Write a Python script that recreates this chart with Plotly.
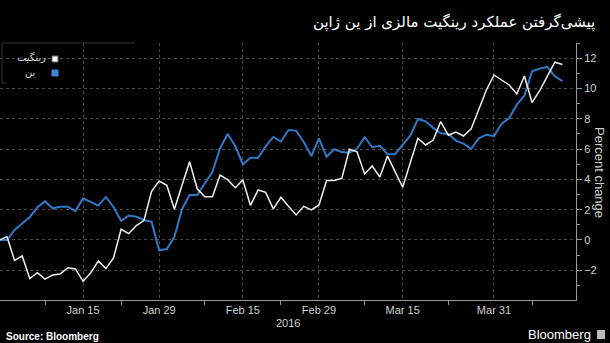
import plotly.graph_objects as go
import pandas as pd

# ---------------- data ----------------
dates = pd.bdate_range("2015-12-31", periods=75)

ringgit = [0, 0.22, -1.35, -1.05, -2.55, -2.16, -2.58, -2.31, -2.24, -1.83,
           -1.91, -2.73, -2.17, -1.39, -1.89, -1.19, 0.71, 0.42, 0.95, 1.28,
           3.21, 3.89, 3.61, 2.03, 3.61, 5.17, 3.38, 2.86, 2.86, 4.28,
           3.98, 3.45, 3.96, 2.28, 3.30, 3.14, 2.05, 2.82, 2.22, 1.65,
           2.22, 1.98, 2.31, 3.92, 3.92, 4.07, 5.99, 5.82, 4.36, 4.88,
           4.16, 5.55, 4.51, 3.48, 5.10, 6.71, 6.27, 6.58, 7.81, 6.91,
           7.12, 6.86, 7.33, 8.60, 9.90, 10.89, 10.56, 10.23, 9.64, 10.82,
           9.07, 9.85, 10.80, 11.73, 11.58]

yen = [0, 0, 0.66, 1.06, 1.52, 2.16, 2.55, 2.09, 2.20, 2.20,
       1.91, 2.75, 2.49, 2.27, 2.84, 2.18, 1.26, 1.61, 1.54, 1.32,
       1.21, -0.68, -0.60, 0.20, 2.03, 2.97, 2.97, 3.70, 4.50, 6.05,
       7.00, 6.20, 5.00, 5.43, 5.43, 6.18, 6.80, 6.50, 7.26, 7.22,
       6.47, 5.54, 6.71, 5.50, 5.99, 5.80, 5.76, 6.02, 6.78, 6.12,
       6.22, 5.68, 5.66, 6.27, 6.88, 7.98, 7.83, 7.40, 7.04, 7.00,
       6.56, 6.36, 6.02, 6.71, 6.95, 6.86, 7.68, 8.05, 8.93, 9.52,
       11.14, 11.31, 11.42, 10.80, 10.48]

series_names = ["رینگیت", "ین"]
tick_dates = ["2016-01-15", "2016-01-29", "2016-02-15", "2016-02-29", "2016-03-15", "2016-03-31"]
tick_labels = ["Jan 15", "Jan 29", "Feb 15", "Feb 29", "Mar 15", "Mar 31"]
minor_tick_dates = ["2016-01-08", "2016-01-22", "2016-02-08", "2016-02-22",
                    "2016-03-08", "2016-03-23", "2016-04-07"]
y_ticks = [-2, 0, 2, 4, 6, 8, 10, 12]

title = "پیشی‌گرفتن عملکرد رینگیت مالزی از ین ژاپن"

# ---------------- layout helpers ----------------
W, H = 610, 343
L, R, T, B = 0, 34, 43, 43
PW, PH = W - L - R, H - T - B


def px(x):
    return (x - L) / PW


def py(y):
    return (H - B - y) / PH


WHITE = "#f0f0f0"
BLUE = "#3278c8"
GRID = "#4a4a4a"
AXIS = "#9a9a9a"
TXT = "#d0d0d0"
FONT = "Liberation Sans, Arial, sans-serif"
FA_FONT = "DejaVu Sans, sans-serif"

fig = go.Figure()
fig.add_trace(go.Scatter(x=dates, y=yen, mode="lines", name=series_names[1],
                         line=dict(color=BLUE, width=2)))
fig.add_trace(go.Scatter(x=dates, y=ringgit, mode="lines", name=series_names[0],
                         line=dict(color=WHITE, width=1.5)))

fig.update_layout(
    width=W, height=H,
    paper_bgcolor="black", plot_bgcolor="black",
    margin=dict(l=L, r=R, t=T, b=B, autoexpand=False),
    showlegend=False,
    font=dict(family=FONT, color=TXT, size=11),
    xaxis=dict(
        type="date",
        range=["2015-12-31 02:00", "2016-04-14 18:40"],
        rangebreaks=[dict(bounds=["sat", "mon"])],
        tickmode="array", tickvals=tick_dates, ticktext=tick_labels,
        ticks="", showgrid=True, gridcolor=GRID, griddash="dot", gridwidth=1,
        showline=True, linecolor=AXIS, linewidth=1, zeroline=False,
        tickfont=dict(size=11, color=TXT),
        minor=dict(tickmode="array", tickvals=minor_tick_dates, ticks="outside",
                   ticklen=4, tickcolor=AXIS, tickwidth=1, showgrid=False),
    ),
    yaxis=dict(
        side="right",
        range=[-3.96, 13.0],
        tickmode="array", tickvals=y_ticks,
        ticks="outside", ticklen=5, tickcolor=AXIS, tickwidth=1,
        showline=True, linecolor=AXIS, linewidth=1, zeroline=False,
        showgrid=True, gridcolor=GRID, griddash="dot", gridwidth=1,
        tickfont=dict(size=11, color=TXT),
        minor=dict(dtick=1, tick0=0, ticks="outside", ticklen=3,
                   tickcolor=AXIS, tickwidth=1, showgrid=False),
    ),
)

ann = []
ann.append(dict(text=title, xref="paper", yref="paper", x=px(597), y=py(22),
                xanchor="right", yanchor="middle", showarrow=False,
                font=dict(family=FA_FONT, size=15, color="white")))
ann.append(dict(text="Percent change", xref="paper", yref="paper", x=px(600), y=py(172),
                xanchor="center", yanchor="middle", textangle=90, showarrow=False,
                font=dict(family=FONT, size=13, color=TXT)))
ann.append(dict(text="2016", xref="paper", yref="paper", x=px(288), y=py(323),
                xanchor="center", yanchor="middle", showarrow=False,
                font=dict(family=FONT, size=11, color=TXT)))
ann.append(dict(text="<b>Source: Bloomberg</b>", xref="paper", yref="paper", x=px(4), y=py(336),
                xanchor="left", yanchor="middle", showarrow=False,
                font=dict(family=FONT, size=10, color="white")))
ann.append(dict(text="Bloomberg", xref="paper", yref="paper", x=px(593), y=py(334),
                xanchor="right", yanchor="middle", showarrow=False,
                font=dict(family=FONT, size=13, color="white")))
ann.append(dict(text=series_names[0], xref="paper", yref="paper", x=px(48), y=py(57),
                xanchor="right", yanchor="middle", showarrow=False,
                font=dict(family=FA_FONT, size=10, color="#dddddd")))
ann.append(dict(text=series_names[1], xref="paper", yref="paper", x=px(38), y=py(72),
                xanchor="right", yanchor="middle", showarrow=False,
                font=dict(family=FA_FONT, size=10, color="#dddddd")))
fig.update_layout(annotations=ann)

shapes = []
# legend frame (top and left edges)
shapes.append(dict(type="line", xref="paper", yref="paper", x0=px(2), x1=px(135),
                   y0=py(43), y1=py(43), line=dict(color="#333333", width=1)))
shapes.append(dict(type="line", xref="paper", yref="paper", x0=px(2), x1=px(2),
                   y0=py(43), y1=py(83), line=dict(color="#333333", width=1)))
shapes.append(dict(type="line", xref="paper", yref="paper", x0=px(2), x1=px(6),
                   y0=py(83), y1=py(83), line=dict(color="#333333", width=1)))
# legend swatches
shapes.append(dict(type="rect", xref="paper", yref="paper", x0=px(52), x1=px(58),
                   y0=py(62), y1=py(56), fillcolor="white", line=dict(color="#666", width=1)))
shapes.append(dict(type="rect", xref="paper", yref="paper", x0=px(52), x1=px(58),
                   y0=py(76), y1=py(70), fillcolor="#3a88dc", line=dict(color="#3a88dc", width=1)))
# Bloomberg logo mark
shapes.append(dict(type="rect", xref="paper", yref="paper", x0=px(597), x1=px(605),
                   y0=py(339), y1=py(330), fillcolor="#bbbbbb", line=dict(width=0)))
fig.update_layout(shapes=shapes)

fig.write_html("out.html", config={"displayModeBar": False},
               post_script="document.body.style.margin='0';document.body.style.background='black';")
